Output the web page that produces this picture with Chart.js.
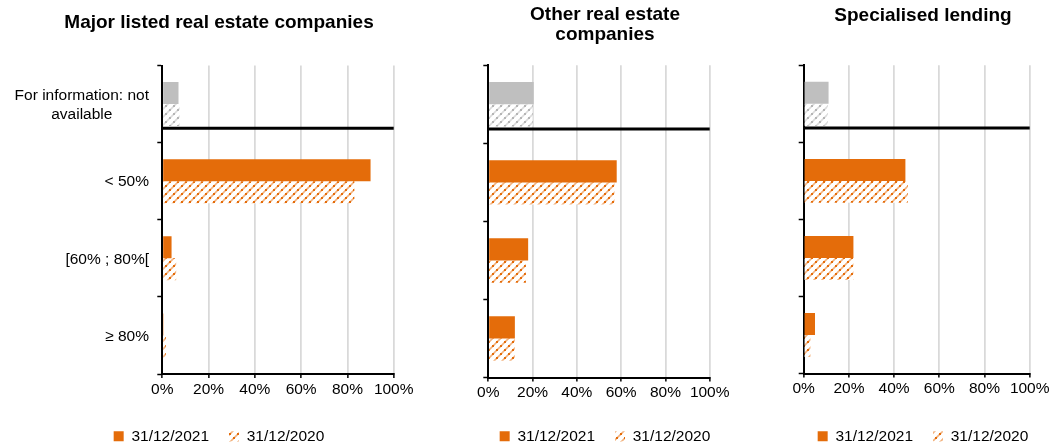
<!DOCTYPE html>
<html>
<head>
<meta charset="utf-8">
<title>LTV distribution by counterparty type</title>
<script src="https://cdn.jsdelivr.net/npm/chart.js@4.4.1/dist/chart.umd.min.js"></script>
<style>
  html, body { margin: 0; padding: 0; background: #fff; overflow: hidden; width: 1055px; height: 448px; }
  canvas { position: absolute; top: 0; }
</style>
</head>
<body>
<canvas id="c1"></canvas>
<canvas id="c2"></canvas>
<canvas id="c3"></canvas>
<script>
// ---- data ----
const categories = [['For information: not', 'available'], '< 50%', '[60% ; 80%[', '≥ 80%'];
const seriesLabels = ['31/12/2021', '31/12/2020'];
const panelTitles = ['Major listed real estate companies', ['Other real estate', 'companies'], 'Specialised lending'];
const xTickValues = [0, 20, 40, 60, 80, 100];

const majorListed2021 = [7, 90, 4, 0.5];
const majorListed2020 = [7.5, 83, 6, 1.5];
const otherRealEstate2021 = [20.5, 58, 18, 12];
const otherRealEstate2020 = [20, 57, 17, 12];
const specialisedLending2021 = [11, 45, 22, 5];
const specialisedLending2020 = [10.5, 46, 22, 3];

// ---- styles ----
const ORANGE = '#E46C0A';
const GRAY = '#BFBFBF';
const FONT = "'Liberation Sans', Arial, sans-serif";
const CANVAS_H = 454;
const SEPARATOR_POS = 0.315;   // between "not available" and "< 50%", in category units
const LABEL_GAP = 13.3;

Chart.defaults.font.family = FONT;
Chart.defaults.color = '#000';

// Diagonal dashed hatch on white, used for the previous-year bars
function makeHatch(dark, light) {
  const c = document.createElement('canvas');
  c.width = 8; c.height = 8;
  const g = c.getContext('2d');
  g.fillStyle = '#fff';
  g.fillRect(0, 0, 8, 8);
  g.strokeStyle = light;
  g.lineWidth = 1.6;
  [0, 8, 16].forEach(k => {
    g.beginPath();
    g.moveTo(k + 1, -1);
    g.lineTo(k - 9, 9);
    g.stroke();
  });
  g.fillStyle = dark;
  [[2, 6], [6, 2]].forEach(([px, py]) => g.fillRect(px - 1, py - 1, 2, 2));
  return g.createPattern(c, 'repeat');
}
const orangeHatch = makeHatch(ORANGE, '#F2B27E');
const grayHatch = makeHatch('#B5B5B5', '#DCDCDC');

// Thick black rule separating the "not available" row from the LTV buckets
const separatorPlugin = {
  id: 'naSeparator',
  afterDatasetsDraw(chart) {
    const { ctx, scales: { x, y } } = chart;
    const py = y.getPixelForValue(SEPARATOR_POS);
    ctx.save();
    ctx.strokeStyle = '#000';
    ctx.lineWidth = 3;
    ctx.beginPath();
    ctx.moveTo(x.getPixelForValue(0), py);
    ctx.lineTo(x.getPixelForValue(100), py);
    ctx.stroke();
    ctx.restore();
  }
};

// Category labels: right-aligned block, multi-line labels centred line by line
const categoryLabelPlugin = {
  id: 'categoryLabels',
  afterDraw(chart) {
    const y = chart.scales.y;
    const ctx = chart.ctx;
    ctx.save();
    ctx.font = '15.5px ' + FONT;
    ctx.fillStyle = '#000';
    ctx.textAlign = 'center';
    ctx.textBaseline = 'middle';
    categories.forEach((lab, i) => {
      const lines = Array.isArray(lab) ? lab : [lab];
      const w = Math.max(...lines.map(l => ctx.measureText(l).width));
      const cx = y.right - LABEL_GAP - w / 2;
      const cy = y.getPixelForValue(i);
      lines.forEach((l, k) => ctx.fillText(l, cx, cy + (k - (lines.length - 1) / 2) * 19 + 1));
    });
    ctx.restore();
  }
};

const panels = [
  { id: 'c1', left: 0,   width: 438, plotLeft: 162.3, plotRight: 393.7, plotBottom: 374,
    title: panelTitles[0], titlePad: { top: 12.7, bottom: 32.85 }, showCats: true,
    d21: majorListed2021, d20: majorListed2020 },
  { id: 'c2', left: 455, width: 300, plotLeft: 488.3, plotRight: 709.7, plotBottom: 377.5,
    title: panelTitles[1], titlePad: { top: 5.1, bottom: 20.3 }, showCats: false,
    d21: otherRealEstate2021, d20: otherRealEstate2020 },
  { id: 'c3', left: 790, width: 266, plotLeft: 803.7, plotRight: 1029.7, plotBottom: 373.5,
    title: panelTitles[2], titlePad: { top: 5.9, bottom: 39.45 }, showCats: false,
    d21: specialisedLending2021, d20: specialisedLending2020 }
];

function buildChart(p) {
  const canvas = document.getElementById(p.id);
  canvas.style.left = p.left + 'px';
  canvas.width = p.width;
  canvas.height = CANVAS_H;
  canvas.style.width = p.width + 'px';
  canvas.style.height = CANVAS_H + 'px';

  new Chart(canvas, {
    type: 'bar',
    data: {
      labels: categories,
      datasets: [
        { label: seriesLabels[0], data: p.d21, borderWidth: 0,
          backgroundColor: categories.map((c, i) => i === 0 ? GRAY : ORANGE) },
        { label: seriesLabels[1], data: p.d20, borderWidth: 0,
          backgroundColor: categories.map((c, i) => i === 0 ? grayHatch : orangeHatch) }
      ]
    },
    options: {
      indexAxis: 'y',
      responsive: false,
      animation: false,
      devicePixelRatio: 1,
      layout: { padding: 0 },
      datasets: { bar: { barPercentage: 1, categoryPercentage: 0.57 } },
      scales: {
        x: {
          min: 0, max: 100,
          afterBuildTicks(s) { s.ticks = xTickValues.map(v => ({ value: v })); },
          ticks: { autoSkip: false, maxRotation: 0, padding: 2, color: '#000',
                   font: { size: 15.5 }, callback: v => v + '%' },
          grid: { color: '#d9d9d9', lineWidth: 1.75, tickColor: '#000', tickLength: 4, tickWidth: 1.5 },
          border: { color: '#000', width: 2 },
          afterFit(s) {
            s.paddingLeft = 0;
            s.paddingRight = p.left + p.width - p.plotRight;
            s.height = s.chart.height - s.chart.legend.height - p.plotBottom;
          }
        },
        y: {
          ticks: { display: false },
          grid: { offset: true, drawOnChartArea: false, color: '#000', tickColor: '#000',
                  tickLength: 5, tickWidth: 1.5 },
          border: { color: '#000', width: 2 },
          afterFit(s) { s.width = p.plotLeft - p.left; }
        }
      },
      plugins: {
        title: { display: true, text: p.title, color: '#000',
                 font: { size: 19, weight: 'bold', lineHeight: 1.05 }, padding: p.titlePad },
        legend: {
          position: 'bottom',
          labels: {
            boxWidth: 10, boxHeight: 10, padding: 20, color: '#000', font: { size: 15.5 },
            generateLabels(chart) {
              const items = Chart.defaults.plugins.legend.labels.generateLabels(chart);
              const fills = [ORANGE, orangeHatch];
              items.forEach((it, i) => {
                it.fillStyle = fills[i];
                it.strokeStyle = 'rgba(0,0,0,0)';
                it.lineWidth = 0;
              });
              return items;
            }
          }
        },
        tooltip: { enabled: false }
      }
    },
    plugins: [separatorPlugin].concat(p.showCats ? [categoryLabelPlugin] : [])
  });
}

panels.forEach(buildChart);
</script>
</body>
</html>
